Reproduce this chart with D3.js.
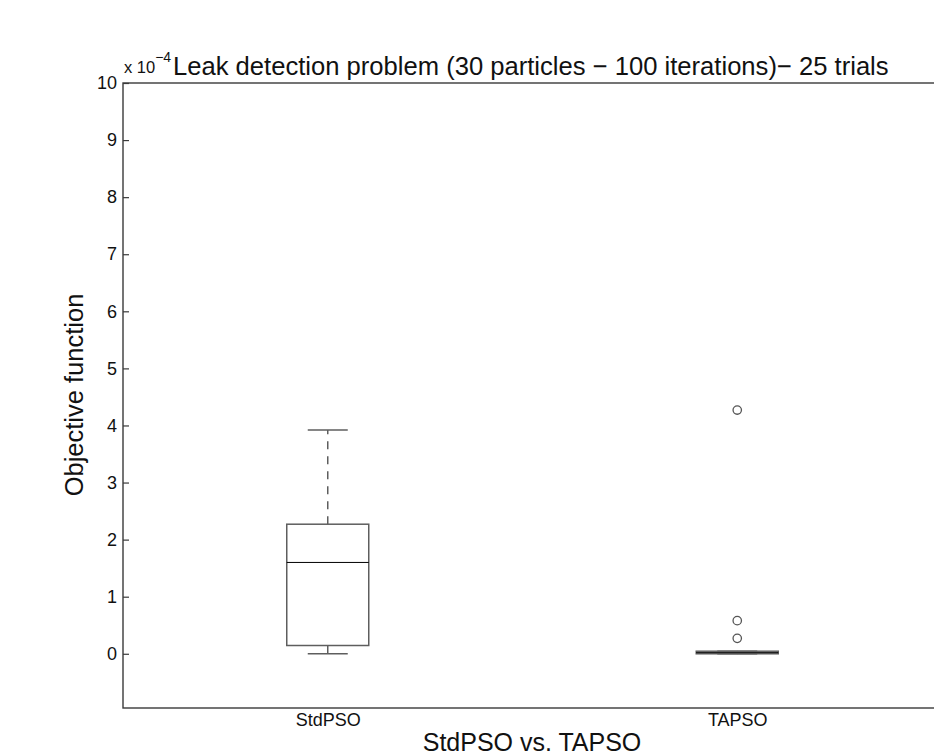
<!DOCTYPE html>
<html>
<head>
<meta charset="utf-8">
<script src="https://cdn.jsdelivr.net/npm/d3@7"></script>
<style>
  html, body { margin: 0; padding: 0; background: #fff; }
  svg { display: block; font-family: "Liberation Sans", Arial, Helvetica, sans-serif; }
</style>
</head>
<body>
<svg id="chart" width="934" height="755"></svg>
<script>
// Box-plot summary per algorithm (objective values in units of 1e-4)
const categories = ["StdPSO", "TAPSO"];
const whiskerLow  = [0.00, 0.00];
const quartile1   = [0.145, 0.00];
const medians     = [1.60, 0.02];
const quartile3   = [2.27, 0.045];
const whiskerHigh = [3.92, 0.045];
const outliers    = [[], [4.27, 0.58, 0.27]];
const yTicks = [0, 1, 2, 3, 4, 5, 6, 7, 8, 9, 10];

const svg = d3.select("#chart");
const margin = { left: 123, top: 83, right: 942, bottom: 708 };
const fontFamily = "Liberation Sans, Arial, sans-serif";

const y = d3.scaleLinear().domain([-0.95, 10]).range([margin.bottom, margin.top]);
const x = d3.scaleLinear().domain([0.5, 2.5]).range([margin.left, margin.right]);

const axisColor = "#3a3a3a";
const boxColor = "#5e5e5e";
const textColor = "#111";

// Axis frame
svg.append("rect")
  .attr("x", margin.left).attr("y", margin.top)
  .attr("width", margin.right - margin.left)
  .attr("height", margin.bottom - margin.top)
  .attr("fill", "none").attr("stroke", axisColor).attr("stroke-width", 1.4);

// Y axis ticks (inward) and labels
const yAxis = d3.axisLeft(y).tickValues(yTicks).tickSizeInner(-6).tickSizeOuter(0).tickPadding(6);
const gy = svg.append("g").attr("transform", `translate(${margin.left},0)`).call(yAxis);
gy.attr("font-size", null).attr("font-family", null);
gy.select(".domain").remove();
gy.selectAll(".tick line").attr("stroke", axisColor).attr("stroke-width", 1.2);
gy.selectAll(".tick text").style("font-size", "18px").attr("fill", textColor)
  .style("font-family", fontFamily);

// Category labels under the axis
const gx = svg.append("g").attr("transform", `translate(0,${margin.bottom})`)
  .call(d3.axisBottom(x).tickValues([1, 2]).tickFormat((d, i) => categories[i]).tickSize(0).tickPadding(5));
gx.attr("font-size", null).attr("font-family", null);
gx.select(".domain").remove();
gx.selectAll(".tick text").style("font-size", "18px").attr("fill", textColor)
  .style("font-family", fontFamily);

// Boxes
const boxHalf = 41, capHalf = 20;
categories.forEach((c, i) => {
  const cx = x(i + 1);
  const g = svg.append("g");
  // upper whisker (dashed)
  g.append("line").attr("x1", cx).attr("x2", cx)
    .attr("y1", y(quartile3[i])).attr("y2", y(whiskerHigh[i]))
    .attr("stroke", boxColor).attr("stroke-width", 1.5).attr("stroke-dasharray", "8,7");
  // lower whisker (dashed)
  g.append("line").attr("x1", cx).attr("x2", cx)
    .attr("y1", y(quartile1[i])).attr("y2", y(whiskerLow[i]))
    .attr("stroke", boxColor).attr("stroke-width", 1.5).attr("stroke-dasharray", "8,7");
  // caps
  [whiskerHigh[i], whiskerLow[i]].forEach(v => {
    g.append("line").attr("x1", cx - capHalf).attr("x2", cx + capHalf)
      .attr("y1", y(v)).attr("y2", y(v))
      .attr("stroke", boxColor).attr("stroke-width", 1.5);
  });
  // box
  g.append("rect").attr("x", cx - boxHalf).attr("width", 2 * boxHalf)
    .attr("y", y(quartile3[i])).attr("height", Math.max(y(quartile1[i]) - y(quartile3[i]), 0.5))
    .attr("fill", "none").attr("stroke", boxColor).attr("stroke-width", 1.5);
  // median
  g.append("line").attr("x1", cx - boxHalf).attr("x2", cx + boxHalf)
    .attr("y1", y(medians[i])).attr("y2", y(medians[i]))
    .attr("stroke", "#000").attr("stroke-width", 1);
  // outliers
  g.selectAll("circle").data(outliers[i]).join("circle")
    .attr("cx", cx).attr("cy", d => y(d)).attr("r", 4.2)
    .attr("fill", "none").attr("stroke", "#555").attr("stroke-width", 1.3);
});

// Exponent label
const expo = svg.append("text").attr("x", 124).attr("y", 73)
  .attr("font-size", 16.5).attr("fill", textColor);
expo.append("tspan").text("x 10");
expo.append("tspan").attr("font-size", 14).attr("dy", -11).text("\u22124");

// Title
svg.append("text").attr("x", 173).attr("y", 75)
  .attr("font-size", 25.6).attr("fill", textColor)
  .text("Leak detection problem (30 particles \u2212 100 iterations)\u2212 25 trials");

// Axis titles
svg.append("text").attr("x", 532).attr("y", 751).attr("text-anchor", "middle")
  .attr("font-size", 25).attr("fill", textColor).text("StdPSO vs. TAPSO");
svg.append("text").attr("transform", "translate(83,395) rotate(-90)")
  .attr("text-anchor", "middle").attr("font-size", 25.5).attr("fill", textColor)
  .text("Objective function");
</script>
</body>
</html>
